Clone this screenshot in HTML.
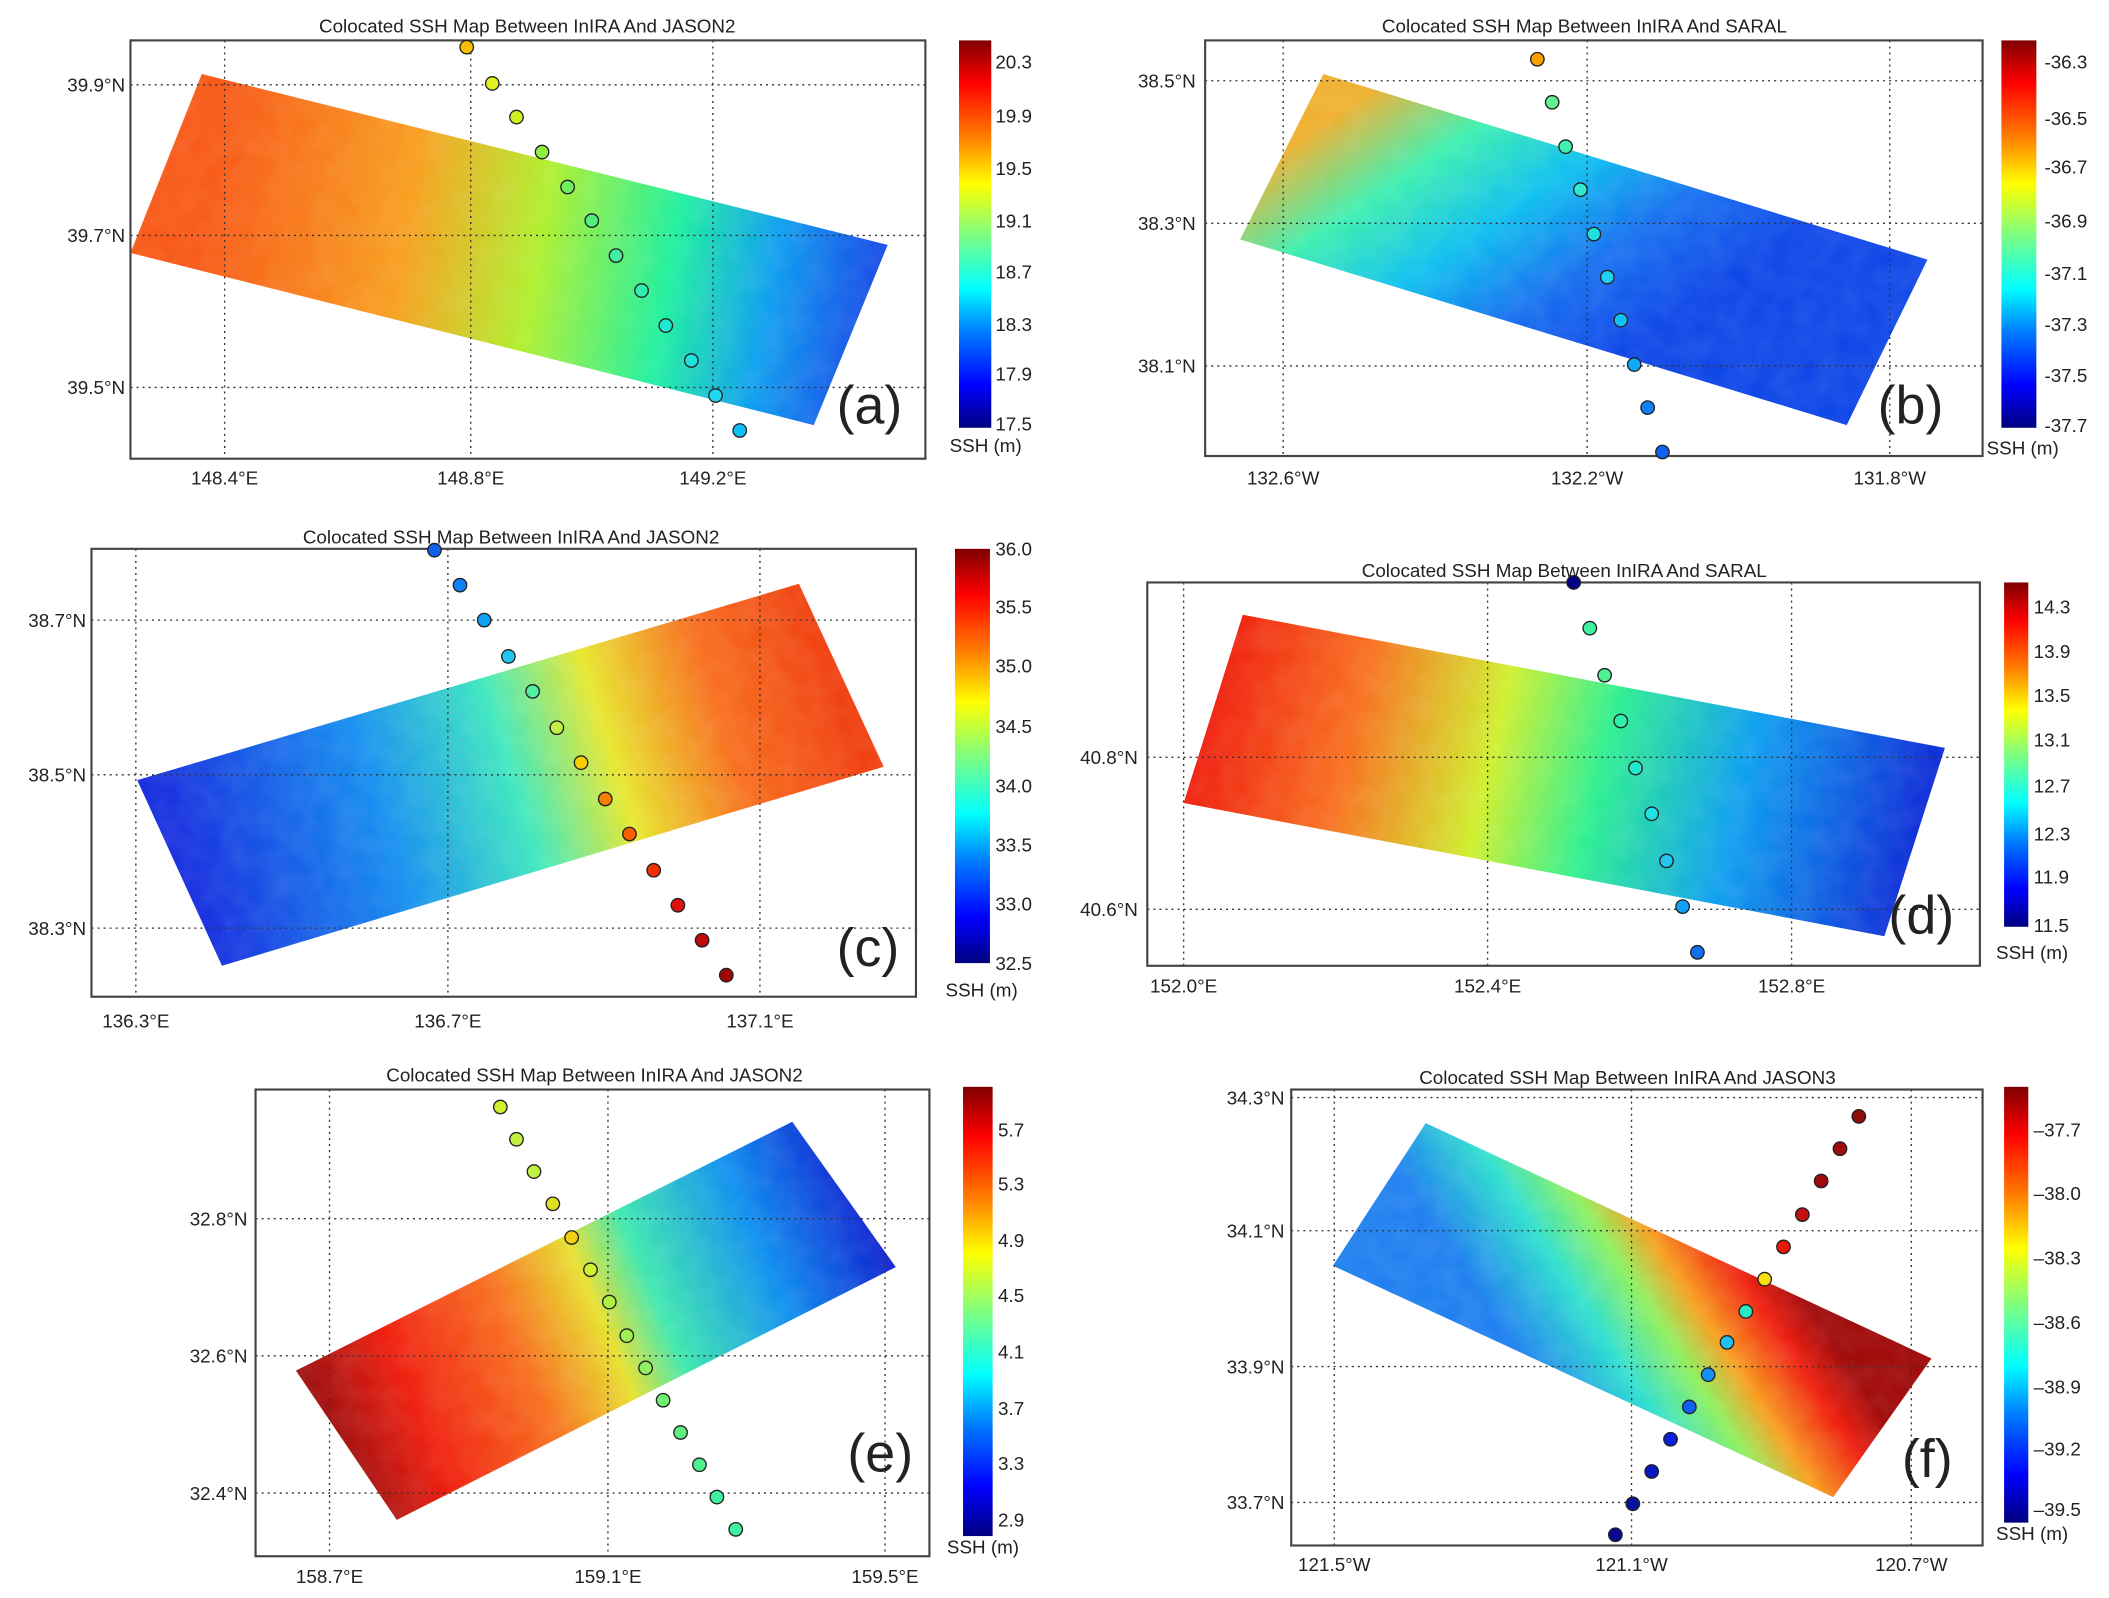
<!DOCTYPE html>
<html><head><meta charset="utf-8"><style>
html,body{margin:0;padding:0;background:#fff}
svg{display:block}
text{font-family:"Liberation Sans",sans-serif;fill:#222}
.t{font-size:14px;text-anchor:middle}
.tk{font-size:14px}
.cb{font-size:14px}
.l{font-size:40px}
.g{stroke:#333;stroke-width:1;stroke-dasharray:1.5 3;fill:none}
.ax{fill:none;stroke:#444;stroke-width:1.6}
.d{stroke:#222;stroke-width:1}
</style></head><body>
<svg width="2109" height="1598" viewBox="0 0 1568 1188" xmlns="http://www.w3.org/2000/svg">
<defs>
<linearGradient id="jet" x1="0" y1="1" x2="0" y2="0">
<stop offset="0" stop-color="#00007f"/><stop offset=".11" stop-color="#0000ff"/><stop offset=".25" stop-color="#007fff"/><stop offset=".36" stop-color="#00ffff"/><stop offset=".5" stop-color="#7fff7f"/><stop offset=".63" stop-color="#ffff00"/><stop offset=".75" stop-color="#ff7f00"/><stop offset=".89" stop-color="#ff0000"/><stop offset="1" stop-color="#7f0000"/></linearGradient>
<linearGradient id="ga" gradientUnits="userSpaceOnUse" x1="150" y1="180" x2="640" y2="260">
<stop offset="0" stop-color="#f85a18"/><stop offset=".3" stop-color="#f8a020"/><stop offset=".5" stop-color="#b0f030"/><stop offset=".7" stop-color="#20f0a0"/><stop offset=".85" stop-color="#10a0f0"/><stop offset="1" stop-color="#1850e8"/></linearGradient>
<linearGradient id="gb" gradientUnits="userSpaceOnUse" x1="1000" y1="80" x2="1150" y2="300">
<stop offset="0" stop-color="#f0b030"/><stop offset=".25" stop-color="#40f0b0"/><stop offset=".5" stop-color="#10c0f0"/><stop offset=".75" stop-color="#1870f0"/><stop offset="1" stop-color="#1048e8"/></linearGradient>
<linearGradient id="gc" gradientUnits="userSpaceOnUse" x1="140" y1="650" x2="620" y2="500">
<stop offset="0" stop-color="#1830e0"/><stop offset=".3" stop-color="#1890f0"/><stop offset=".5" stop-color="#40e8c0"/><stop offset=".65" stop-color="#e8e830"/><stop offset=".82" stop-color="#f87020"/><stop offset="1" stop-color="#f04010"/></linearGradient>
<linearGradient id="gd" gradientUnits="userSpaceOnUse" x1="900" y1="520" x2="1420" y2="640">
<stop offset="0" stop-color="#f02010"/><stop offset=".2" stop-color="#f87020"/><stop offset=".4" stop-color="#d0f030"/><stop offset=".55" stop-color="#30f090"/><stop offset=".75" stop-color="#10a0f0"/><stop offset="1" stop-color="#1030d8"/></linearGradient>
<linearGradient id="ge" gradientUnits="userSpaceOnUse" x1="240" y1="1050" x2="640" y2="880">
<stop offset="0" stop-color="#a01010"/><stop offset=".15" stop-color="#f02010"/><stop offset=".35" stop-color="#f87020"/><stop offset=".5" stop-color="#e8e030"/><stop offset=".6" stop-color="#40e8b0"/><stop offset=".8" stop-color="#1090f0"/><stop offset="1" stop-color="#1020d0"/></linearGradient>
<linearGradient id="gf" gradientUnits="userSpaceOnUse" x1="1130" y1="1010" x2="1300" y2="900">
<stop offset="0" stop-color="#2080f0"/><stop offset=".3" stop-color="#30e0d0"/><stop offset=".5" stop-color="#90f060"/><stop offset=".65" stop-color="#f8a020"/><stop offset=".85" stop-color="#f02010"/><stop offset="1" stop-color="#a00a0a"/></linearGradient>
<filter id="n" x="0" y="0" width="100%" height="100%"><feTurbulence type="fractalNoise" baseFrequency="0.06" numOctaves="2" seed="3"/><feColorMatrix values="0 0 0 0 1  0 0 0 0 1  0 0 0 0 1  0 0 0 .25 -.05"/><feComposite in2="SourceGraphic" operator="in"/></filter>
</defs>

<!-- Panel a -->
<text class="t" x="392" y="24">Colocated SSH Map Between InIRA And JASON2</text>
<polygon points="150,55 660,182 605,316 97,188" fill="url(#ga)"/>
<polygon points="150,55 660,182 605,316 97,188" fill="#fff" filter="url(#n)" opacity=".5"/>
<path class="g" d="M167,30V341M350,30V341M530,30V341M97,63H688M97,175H688M97,288H688"/>
<rect class="ax" x="97" y="30" width="591" height="311"/>
<g class="d"><circle cx="347" cy="35" r="5" fill="#f8c000"/><circle cx="366" cy="62" r="5" fill="#e0f020"/><circle cx="384" cy="87" r="5" fill="#d0f020"/><circle cx="403" cy="113" r="5" fill="#90f040"/><circle cx="422" cy="139" r="5" fill="#70f060"/><circle cx="440" cy="164" r="5" fill="#50f080"/><circle cx="458" cy="190" r="5" fill="#40f0a0"/><circle cx="477" cy="216" r="5" fill="#30f0b0"/><circle cx="495" cy="242" r="5" fill="#20e8d0"/><circle cx="514" cy="268" r="5" fill="#20e0e0"/><circle cx="532" cy="294" r="5" fill="#20d8f0"/><circle cx="550" cy="320" r="5" fill="#10c0f8"/></g>
<text class="tk" x="167" y="360" text-anchor="middle">148.4°E</text><text class="tk" x="350" y="360" text-anchor="middle">148.8°E</text><text class="tk" x="530" y="360" text-anchor="middle">149.2°E</text>
<text class="tk" x="93" y="68" text-anchor="end">39.9°N</text><text class="tk" x="93" y="180" text-anchor="end">39.7°N</text><text class="tk" x="93" y="293" text-anchor="end">39.5°N</text>
<text class="l" x="622" y="315">(a)</text>
<rect x="713" y="30" width="24" height="288" fill="url(#jet)"/>
<g class="cb"><text x="740" y="51">20.3</text><text x="740" y="91">19.9</text><text x="740" y="130">19.5</text><text x="740" y="169">19.1</text><text x="740" y="207">18.7</text><text x="740" y="246">18.3</text><text x="740" y="283">17.9</text><text x="740" y="320">17.5</text><text x="706" y="336">SSH (m)</text></g>

<!-- Panel b -->
<text class="t" x="1178" y="24">Colocated SSH Map Between InIRA And SARAL</text>
<polygon points="984,55 1433,193 1373,316 922,178" fill="url(#gb)"/>
<polygon points="984,55 1433,193 1373,316 922,178" fill="#fff" filter="url(#n)" opacity=".5"/>
<path class="g" d="M954,30V339M1180,30V339M1405,30V339M896,60H1474M896,166H1474M896,272H1474"/>
<rect class="ax" x="896" y="30" width="578" height="309"/>
<g class="d"><circle cx="1143" cy="44" r="5" fill="#f8a000"/><circle cx="1154" cy="76" r="5" fill="#60f090"/><circle cx="1164" cy="109" r="5" fill="#40f0b0"/><circle cx="1175" cy="141" r="5" fill="#30e8d0"/><circle cx="1185" cy="174" r="5" fill="#20e0e0"/><circle cx="1195" cy="206" r="5" fill="#20d0f0"/><circle cx="1205" cy="238" r="5" fill="#10c0f8"/><circle cx="1215" cy="271" r="5" fill="#10a8f8"/><circle cx="1225" cy="303" r="5" fill="#1080f8"/><circle cx="1236" cy="336" r="5" fill="#1060f0"/></g>
<text class="tk" x="954" y="360" text-anchor="middle">132.6°W</text><text class="tk" x="1180" y="360" text-anchor="middle">132.2°W</text><text class="tk" x="1405" y="360" text-anchor="middle">131.8°W</text>
<text class="tk" x="889" y="65" text-anchor="end">38.5°N</text><text class="tk" x="889" y="171" text-anchor="end">38.3°N</text><text class="tk" x="889" y="277" text-anchor="end">38.1°N</text>
<text class="l" x="1396" y="315">(b)</text>
<rect x="1488" y="30" width="26" height="288" fill="url(#jet)"/>
<g class="cb"><text x="1520" y="51">-36.3</text><text x="1520" y="93">-36.5</text><text x="1520" y="129">-36.7</text><text x="1520" y="169">-36.9</text><text x="1520" y="208">-37.1</text><text x="1520" y="246">-37.3</text><text x="1520" y="284">-37.5</text><text x="1520" y="321">-37.7</text><text x="1477" y="338">SSH (m)</text></g>

<!-- Panel c -->
<text class="t" x="380" y="404">Colocated SSH Map Between InIRA And JASON2</text>
<polygon points="102,580 594,434 657,570 165,718" fill="url(#gc)"/>
<polygon points="102,580 594,434 657,570 165,718" fill="#fff" filter="url(#n)" opacity=".5"/>
<path class="g" d="M101,408V741M333,408V741M565,408V741M68,461H681M68,576H681M68,690H681"/>
<rect class="ax" x="68" y="408" width="613" height="333"/>
<g class="d"><circle cx="323" cy="409" r="5" fill="#1060f0"/><circle cx="342" cy="435" r="5" fill="#1080f8"/><circle cx="360" cy="461" r="5" fill="#10a0f8"/><circle cx="378" cy="488" r="5" fill="#20c8f0"/><circle cx="396" cy="514" r="5" fill="#50f0a0"/><circle cx="414" cy="541" r="5" fill="#c0f040"/><circle cx="432" cy="567" r="5" fill="#f8d000"/><circle cx="450" cy="594" r="5" fill="#f88000"/><circle cx="468" cy="620" r="5" fill="#f86000"/><circle cx="486" cy="647" r="5" fill="#f03000"/><circle cx="504" cy="673" r="5" fill="#e01010"/><circle cx="522" cy="699" r="5" fill="#c00a0a"/><circle cx="540" cy="725" r="5" fill="#a00808"/></g>
<text class="tk" x="101" y="764" text-anchor="middle">136.3°E</text><text class="tk" x="333" y="764" text-anchor="middle">136.7°E</text><text class="tk" x="565" y="764" text-anchor="middle">137.1°E</text>
<text class="tk" x="64" y="466" text-anchor="end">38.7°N</text><text class="tk" x="64" y="581" text-anchor="end">38.5°N</text><text class="tk" x="64" y="695" text-anchor="end">38.3°N</text>
<text class="l" x="622" y="718">(c)</text>
<rect x="710" y="408" width="26" height="308" fill="url(#jet)"/>
<g class="cb"><text x="740" y="413">36.0</text><text x="740" y="456">35.5</text><text x="740" y="500">35.0</text><text x="740" y="545">34.5</text><text x="740" y="589">34.0</text><text x="740" y="633">33.5</text><text x="740" y="677">33.0</text><text x="740" y="721">32.5</text><text x="703" y="741">SSH (m)</text></g>

<!-- Panel d -->
<text class="t" x="1163" y="429">Colocated SSH Map Between InIRA And SARAL</text>
<polygon points="924,457 1446,556 1401,696 880,597" fill="url(#gd)"/>
<polygon points="924,457 1446,556 1401,696 880,597" fill="#fff" filter="url(#n)" opacity=".5"/>
<path class="g" d="M880,433V718M1106,433V718M1332,433V718M853,563H1472M853,676H1472"/>
<rect class="ax" x="853" y="433" width="619" height="285"/>
<g class="d"><circle cx="1170" cy="433" r="5" fill="#000080"/><circle cx="1182" cy="467" r="5" fill="#40f0a0"/><circle cx="1193" cy="502" r="5" fill="#50f090"/><circle cx="1205" cy="536" r="5" fill="#30f0b0"/><circle cx="1216" cy="571" r="5" fill="#20e8d0"/><circle cx="1228" cy="605" r="5" fill="#20e0e8"/><circle cx="1239" cy="640" r="5" fill="#20c8f0"/><circle cx="1251" cy="674" r="5" fill="#10a0f8"/><circle cx="1262" cy="708" r="5" fill="#1070f0"/></g>
<text class="tk" x="880" y="738" text-anchor="middle">152.0°E</text><text class="tk" x="1106" y="738" text-anchor="middle">152.4°E</text><text class="tk" x="1332" y="738" text-anchor="middle">152.8°E</text>
<text class="tk" x="846" y="568" text-anchor="end">40.8°N</text><text class="tk" x="846" y="681" text-anchor="end">40.6°N</text>
<text class="l" x="1404" y="694">(d)</text>
<rect x="1490" y="433" width="18" height="256" fill="url(#jet)"/>
<g class="cb"><text x="1512" y="456">14.3</text><text x="1512" y="489">13.9</text><text x="1512" y="522">13.5</text><text x="1512" y="555">13.1</text><text x="1512" y="589">12.7</text><text x="1512" y="625">12.3</text><text x="1512" y="657">11.9</text><text x="1512" y="693">11.5</text><text x="1484" y="713">SSH (m)</text></g>

<!-- Panel e -->
<text class="t" x="442" y="804">Colocated SSH Map Between InIRA And JASON2</text>
<polygon points="220,1019 589,834 666,942 295,1130" fill="url(#ge)"/>
<polygon points="220,1019 589,834 666,942 295,1130" fill="#fff" filter="url(#n)" opacity=".5"/>
<path class="g" d="M245,810V1157M452,810V1157M658,810V1157M190,906H691M190,1008H691M190,1110H691"/>
<rect class="ax" x="190" y="810" width="501" height="347"/>
<g class="d"><circle cx="372" cy="823" r="5" fill="#d0f030"/><circle cx="384" cy="847" r="5" fill="#c0f040"/><circle cx="397" cy="871" r="5" fill="#c0f040"/><circle cx="411" cy="895" r="5" fill="#e0e020"/><circle cx="425" cy="920" r="5" fill="#f0d010"/><circle cx="439" cy="944" r="5" fill="#d0f030"/><circle cx="453" cy="968" r="5" fill="#b0f040"/><circle cx="466" cy="993" r="5" fill="#a0f050"/><circle cx="480" cy="1017" r="5" fill="#90f060"/><circle cx="493" cy="1041" r="5" fill="#70f070"/><circle cx="506" cy="1065" r="5" fill="#60f080"/><circle cx="520" cy="1089" r="5" fill="#50f090"/><circle cx="533" cy="1113" r="5" fill="#40f0a0"/><circle cx="547" cy="1137" r="5" fill="#40f0a0"/></g>
<text class="tk" x="245" y="1177" text-anchor="middle">158.7°E</text><text class="tk" x="452" y="1177" text-anchor="middle">159.1°E</text><text class="tk" x="658" y="1177" text-anchor="middle">159.5°E</text>
<text class="tk" x="184" y="911" text-anchor="end">32.8°N</text><text class="tk" x="184" y="1013" text-anchor="end">32.6°N</text><text class="tk" x="184" y="1115" text-anchor="end">32.4°N</text>
<text class="l" x="630" y="1094">(e)</text>
<rect x="716" y="808" width="22" height="334" fill="url(#jet)"/>
<g class="cb"><text x="742" y="845">5.7</text><text x="742" y="885">5.3</text><text x="742" y="927">4.9</text><text x="742" y="968">4.5</text><text x="742" y="1010">4.1</text><text x="742" y="1052">3.7</text><text x="742" y="1093">3.3</text><text x="742" y="1135">2.9</text><text x="704" y="1155">SSH (m)</text></g>

<!-- Panel f -->
<text class="t" x="1210" y="806">Colocated SSH Map Between InIRA And JASON3</text>
<polygon points="1060,835 1436,1010 1363,1113 991,941" fill="url(#gf)"/>
<polygon points="1060,835 1436,1010 1363,1113 991,941" fill="#fff" filter="url(#n)" opacity=".5"/>
<path class="g" d="M992,810V1149M1213,810V1149M1421,810V1149M960,816H1474M960,915H1474M960,1016H1474M960,1117H1474"/>
<rect class="ax" x="960" y="810" width="514" height="339"/>
<g class="d"><circle cx="1382" cy="830" r="5" fill="#900a0a"/><circle cx="1368" cy="854" r="5" fill="#a00a0a"/><circle cx="1354" cy="878" r="5" fill="#a00a0a"/><circle cx="1340" cy="903" r="5" fill="#c01010"/><circle cx="1326" cy="927" r="5" fill="#e81808"/><circle cx="1312" cy="951" r="5" fill="#f8e010"/><circle cx="1298" cy="975" r="5" fill="#30e8c0"/><circle cx="1284" cy="998" r="5" fill="#20c0f0"/><circle cx="1270" cy="1022" r="5" fill="#1090f8"/><circle cx="1256" cy="1046" r="5" fill="#1060f0"/><circle cx="1242" cy="1070" r="5" fill="#0820e0"/><circle cx="1228" cy="1094" r="5" fill="#0818c0"/><circle cx="1214" cy="1118" r="5" fill="#0810a0"/><circle cx="1201" cy="1141" r="5" fill="#080890"/></g>
<text class="tk" x="992" y="1168" text-anchor="middle">121.5°W</text><text class="tk" x="1213" y="1168" text-anchor="middle">121.1°W</text><text class="tk" x="1421" y="1168" text-anchor="middle">120.7°W</text>
<text class="tk" x="955" y="821" text-anchor="end">34.3°N</text><text class="tk" x="955" y="920" text-anchor="end">34.1°N</text><text class="tk" x="955" y="1021" text-anchor="end">33.9°N</text><text class="tk" x="955" y="1122" text-anchor="end">33.7°N</text>
<text class="l" x="1414" y="1098">(f)</text>
<rect x="1490" y="808" width="18" height="324" fill="url(#jet)"/>
<g class="cb"><text x="1512" y="845">–37.7</text><text x="1512" y="892">–38.0</text><text x="1512" y="940">–38.3</text><text x="1512" y="988">–38.6</text><text x="1512" y="1036">–38.9</text><text x="1512" y="1082">–39.2</text><text x="1512" y="1127">–39.5</text><text x="1484" y="1145">SSH (m)</text></g>
</svg>
</body></html>
